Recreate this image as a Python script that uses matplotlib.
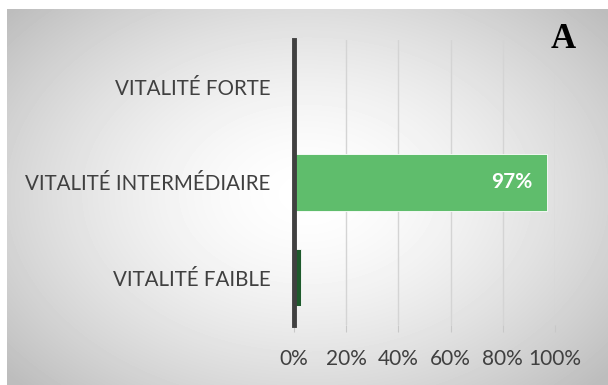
import numpy as np
import matplotlib.pyplot as plt

# categories, bottom to top
categories = ["VITALITÉ FAIBLE", "VITALITÉ INTERMÉDIAIRE", "VITALITÉ FORTE"]
values = [0.025, 0.97, 0.0]
bar_colors = ["#1e5a2c", "#5fbd6c", "#5fbd6c"]
value_labels = ["", "97%", ""]
ticks = [0, 0.2, 0.4, 0.6, 0.8, 1.0]
tick_labels = ["0%", "20%", "40%", "60%", "80%", "100%"]

plt.rcParams["font.family"] = ["Lato", "DejaVu Sans"]

fig = plt.figure(figsize=(6.08, 3.85), dpi=100)

# radial grey background of the chart frame
bg = fig.add_axes([7 / 608, 0, 1 - 7 / 608, 1 - 9 / 385])
h, w = 376, 601
yy, xx = np.mgrid[0:h, 0:w]
cx, cy = 300, 185
r = np.sqrt(((xx - cx) / 330.0) ** 2 + ((yy - cy) / 230.0) ** 2)
shade = 1.0 - 0.26 * np.clip(r, 0, 1.2) ** 1.6 / 1.2 ** 1.6
bg.imshow(shade, cmap="gray", vmin=0, vmax=1, aspect="auto", interpolation="bilinear")
bg.axis("off")

ax = fig.add_axes([294 / 608, 1 - 325 / 385, (555 - 294) / 608, (325 - 40) / 385])
ax.patch.set_alpha(0)
y = np.arange(len(categories))
ax.barh(y, values, height=0.59, color=bar_colors, edgecolor="white", linewidth=0.6, zorder=3)

for yi, v, lab in zip(y, values, value_labels):
    if lab:
        ax.text(v - 0.055, yi, lab, ha="right", va="center", color="white",
                fontsize=15, fontweight="bold", zorder=4)

ax.set_xlim(0, 1)
ax.set_ylim(-0.5, 2.5)
ax.set_xticks(ticks)
ax.set_xticklabels(tick_labels, fontsize=15, color="#404040")
ax.set_yticks(y)
ax.set_yticklabels(categories, fontsize=14.8, color="#404040")
ax.tick_params(axis="y", length=0, pad=17)
ax.tick_params(axis="x", length=5, color="#c8c8c8", pad=12)
ax.grid(axis="x", color="#d4d4d4", linewidth=1, zorder=0)
for s in ["top", "right", "bottom"]:
    ax.spines[s].set_visible(False)
ax.spines["left"].set_color("#404040")
ax.spines["left"].set_linewidth(3.5)
ax.spines["left"].set_zorder(5)

fig.text(563 / 608, 1 - 39 / 385, "A", family="Liberation Serif", fontsize=25,
         fontweight="bold", ha="center", va="center")

fig.savefig("out.png", dpi=100)
